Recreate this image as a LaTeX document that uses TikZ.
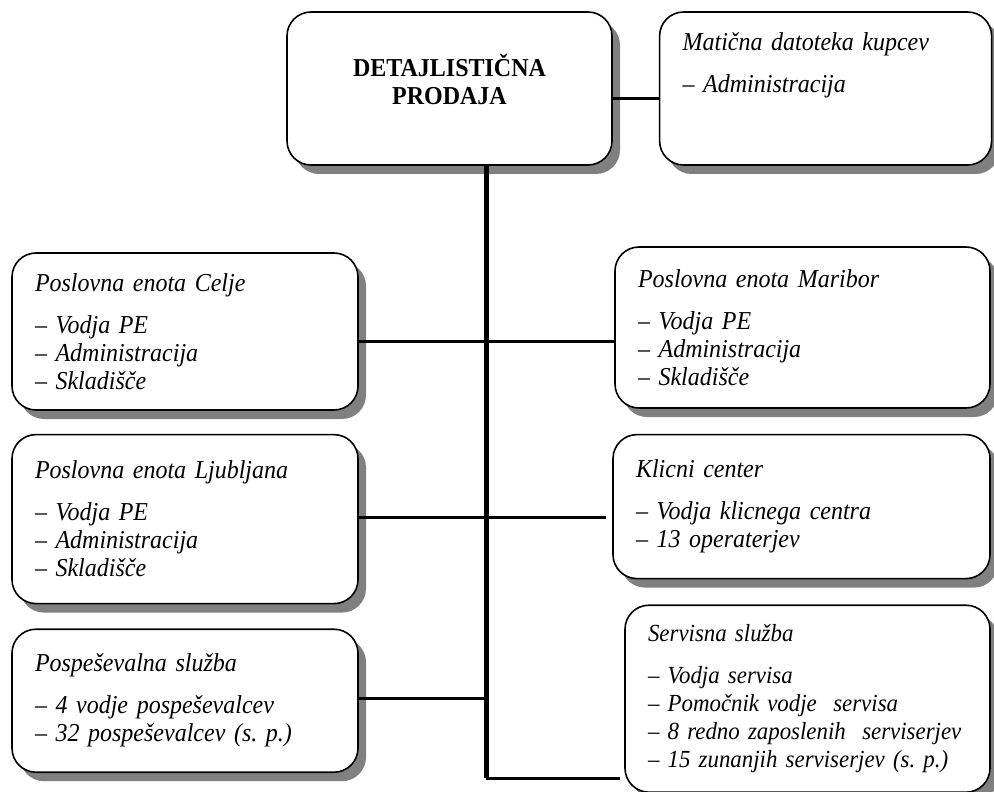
\documentclass[tikz,border=0pt]{standalone}
\usepackage{fontspec}
\setmainfont{Liberation Serif}[FakeStretch=0.93]
\usetikzlibrary{positioning,shadows}
\hyphenpenalty=10000
\frenchspacing
\tikzset{
    orgbox/.style={rectangle,draw,line width=0.8pt,rounded corners=12pt,fill=white,align=left,inner xsep=11.5pt,
        font=\fontsize{12.9}{14}\selectfont\itshape,
        drop shadow={shadow xshift=4pt,shadow yshift=-4.5pt,fill=black!50,opacity=1}},
    orgtop/.style={orgbox,align=center,font=\fontsize{12.9}{14}\selectfont\bfseries},
    orgnarrow/.style={orgbox,font=\fontsize{12.3}{14}\selectfont\itshape},
    orgline/.style={line width=1.5pt},
    orgtrunk/.style={line width=2.5pt}
}

\begin{document}
\begin{tikzpicture}[x=0.5pt,y=-0.5pt]
    \useasboundingbox (0,0) rectangle (994,791);
    \node[orgtop,minimum height=76.5pt,text width=139.5pt] (prodaja) at (449.5,88.5) {DETAJLISTIČNA\\PRODAJA\\[-9pt]\strut};
    \node[orgbox,right=23pt of prodaja,minimum height=76.5pt,text width=143pt] (kupci) {Matična datoteka kupcev\\[7pt]– Administracija\\[8pt]\strut};
    \node[orgbox,minimum height=78.5pt,text width=150pt] (celje) at (185,331.5) {Poslovna enota Celje\\[7pt]– Vodja PE\\– Administracija\\– Skladišče};
    \node[orgbox,below=11.5pt of celje,minimum height=84.5pt,text width=150pt] (ljubljana) {Poslovna enota Ljubljana\\[7pt]– Vodja PE\\– Administracija\\– Skladišče};
    \node[orgbox,below=12pt of ljubljana,minimum height=71.5pt,text width=150pt] (pospesevanje) {Pospeševalna služba\\[7pt]– 4 vodje pospeševalcev\\– 32 pospeševalcev (s. p.)};
    \node[orgbox,minimum height=80.5pt,text width=164.5pt] (maribor) at (802.5,327.5) {Poslovna enota Maribor\\[7pt]– Vodja PE\\– Administracija\\– Skladišče};
    \node[orgbox,below=12.5pt of maribor.south east,anchor=north east,minimum height=72pt,text width=165.5pt] (klicni) {Klicni center\\[7pt]– Vodja klicnega centra\\– 13 operaterjev};
    \node[orgnarrow,below=12.5pt of klicni.south east,anchor=north east,inner xsep=11.5pt,minimum height=93.5pt,text width=159.5pt] (servis) {Servisna služba\\[7pt]– Vodja servisa\\– Pomočnik vodje\ \ servisa\\– 8 redno zaposlenih\ \ serviserjev\\– 15 zunanjih serviserjev (s. p.)};
    \coordinate (trunktop) at ([xshift=18.25pt]prodaja.south);
    \coordinate (trunkbot) at (486,778);
    \coordinate (j1) at (486,341);
    \coordinate (j2) at (486,517);
    \coordinate (j3) at (486,698);
    \draw[orgtrunk] (trunktop) -- (trunkbot);
    \draw[orgline] ([yshift=-5.25pt]prodaja.east) -- ([yshift=-5.25pt]kupci.west);
    \draw[orgline] (celje.east |- j1) -- (j1) -- (maribor.west |- j1);
    \draw[orgline] (ljubljana.east |- j2) -- (j2) -- ([xshift=-3pt]klicni.west |- j2);
    \draw[orgline] (pospesevanje.east |- j3) -- (j3);
    \draw[orgline] (trunkbot) -- ([xshift=-2pt]servis.west |- trunkbot);
\end{tikzpicture}
\end{document}
